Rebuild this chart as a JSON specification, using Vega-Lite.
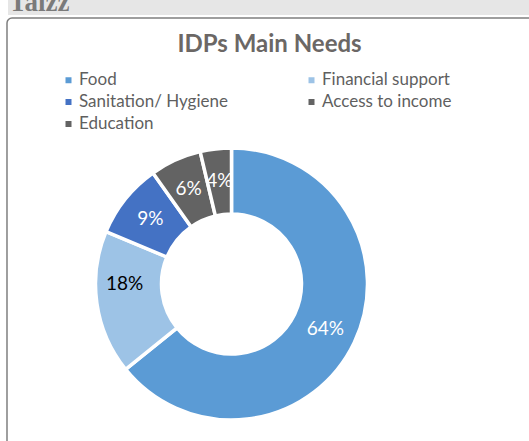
{"$schema":"https://vega.github.io/schema/vega-lite/v6.json","autosize":"none","width":527,"height":428,"padding":{"left":7,"top":18,"right":-5,"bottom":-5},"background":"white","view":{"fill":"white","stroke":"#7f7f7f","strokeWidth":1.5,"cornerRadius":5},"title":{"text":"IDPs Main Needs","font":"Lato","fontSize":24,"fontWeight":"bold","color":"#6b6765","anchor":"middle","frame":"group","offset":0,"dy":68,"dx":-1},"datasets":{"needs":[{"need":"Food","share":64.2,"label":"64%","rank":1},{"need":"Financial support","share":17.1,"label":"18%","rank":2},{"need":"Sanitation/ Hygiene","share":8.9,"label":"9%","rank":3},{"need":"Access to income","share":6.1,"label":"6%","rank":4},{"need":"Education","share":3.7,"label":"4%","rank":5}]},"data":{"name":"needs"},"layer":[{"data":{"values":[{"place":"Taizz"}]},"mark":{"type":"rect","x":1,"x2":522,"y":-18,"y2":-3,"color":"#e6e6e6","clip":false},"encoding":{}},{"data":{"values":[{"place":"Taizz"}]},"mark":{"type":"text","x":2,"y":-7,"align":"left","baseline":"alphabetic","font":"Liberation Serif","fontWeight":"bold","fontSize":27,"color":"#7a7a7a"},"encoding":{"text":{"field":"place","type":"nominal"}}},{"mark":{"type":"arc","x":224.5,"y":266,"outerRadius":136,"innerRadius":70,"stroke":"white","strokeWidth":3.5},"encoding":{"theta":{"field":"share","type":"quantitative","stack":true},"order":{"field":"rank","type":"quantitative"},"color":{"field":"need","type":"nominal","scale":{"domain":["Food","Financial support","Sanitation/ Hygiene","Access to income","Education"],"range":["#5b9bd5","#9dc3e6","#4472c4","#636363","#636363"]},"legend":{"title":null,"orient":"none","legendX":53,"legendY":53.5,"direction":"horizontal","columns":2,"symbolType":"square","symbolSize":36,"symbolStrokeWidth":0,"labelFont":"Lato","labelFontSize":17,"labelColor":"#5f5f5f","labelOffset":2,"rowPadding":4,"columnPadding":75,"gridAlign":"each"}}}},{"mark":{"type":"text","x":224.5,"y":266,"radius":104,"font":"Lato","fontSize":19,"color":"#ffffff"},"encoding":{"theta":{"field":"share","type":"quantitative","stack":true},"order":{"field":"rank","type":"quantitative"},"text":{"condition":{"test":"datum.need === 'Financial support'","value":""},"field":"label","type":"nominal"}}},{"mark":{"type":"text","x":224.5,"y":266,"radius":104,"dx":-4,"dy":-15,"font":"Lato","fontSize":19,"color":"#000000"},"encoding":{"theta":{"field":"share","type":"quantitative","stack":true},"order":{"field":"rank","type":"quantitative"},"text":{"condition":{"test":"datum.need !== 'Financial support'","value":""},"field":"label","type":"nominal"}}}]}
